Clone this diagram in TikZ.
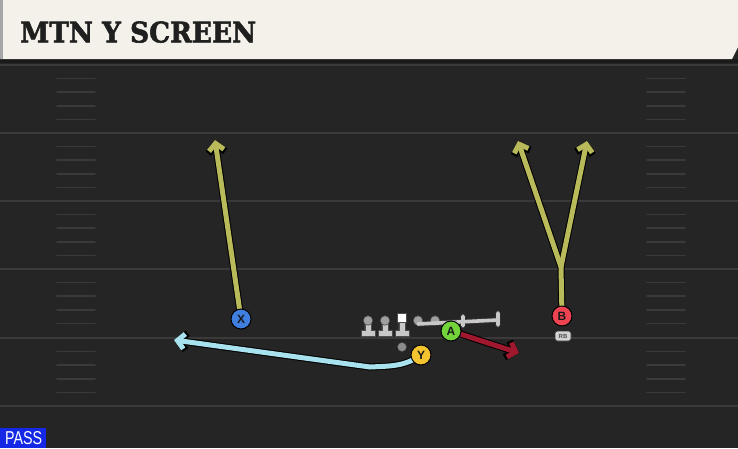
\documentclass[tikz,border=0pt]{standalone}
\usepackage{fontspec}
\setsansfont{Liberation Sans}
\newfontfamily\titlefont{DejaVu Serif}[UprightFont={* Bold}, FakeBold=2]
\usetikzlibrary{arrows.meta}
\definecolor{fieldbg}{HTML}{252525}
\definecolor{bandc}{HTML}{1A1A1A}
\definecolor{cream}{HTML}{F4F1EA}
\definecolor{yardc}{HTML}{3A3A3A}
\definecolor{hashc}{HTML}{3A3A3A}
\definecolor{olive}{HTML}{B9BA5A}
\definecolor{skyc}{HTML}{A8E2EE}
\definecolor{maroonc}{HTML}{A0182E}
\definecolor{xblue}{HTML}{3E7FE0}
\definecolor{bred}{HTML}{EE4452}
\definecolor{agreen}{HTML}{72D43A}
\definecolor{yyellow}{HTML}{F4C430}
\definecolor{linegray}{HTML}{C8C8C8}
\definecolor{topgray}{HTML}{A0A0A0}
\definecolor{passblue}{HTML}{1428E6}
\tikzset{
  yard/.style={draw=yardc, line width=2pt},
  hashmark/.style={draw=hashc, line width=1.6pt, line cap=round},
  player/.style={circle, draw=black, line width=1pt, minimum size=20pt, inner sep=0pt,
     fill=#1, font=\sffamily\bfseries\fontsize{12}{12}\selectfont, text=black!90},
  routeout/.style={draw=black, line width=7pt, line cap=round, line join=round,
     -{Straight Barb[length=7.8pt,width=17pt]}},
  routein/.style={draw=#1, line width=5pt, line cap=round, line join=round,
     -{Straight Barb[length=7pt,width=15pt]}},
  route/.style={routein=#1, preaction={routeout}},
  blockout/.style={draw=black!80, line width=5.4pt, line cap=round},
  blockin/.style={draw=linegray, line width=3.6pt, line cap=round},
  olhead/.style={circle, fill=topgray, draw=black!70, line width=0.6pt, minimum size=9.5pt, inner sep=0pt},
}
\begin{document}
\begin{tikzpicture}[x=1pt,y=-1pt]
\useasboundingbox (0,0) rectangle (738,448);
\fill[fieldbg] (0,0) rectangle (738,448);
% title bar
\fill[bandc] (0,59) rectangle (738,63);
\fill[cream] (0,0) -- (738,0) -- (738,47) -- (732,59) -- (0,59) -- cycle;
\fill[black!35] (0,0) rectangle (3,59);
\node[anchor=south west, inner sep=0pt, text=black!88] (title) at (20,43)
  {\resizebox{236pt}{21pt}{\titlefont MTN Y SCREEN}};
% yard lines
\foreach \yy in {65,133,201,269,338,406} {
  \draw[yard] (0,\yy) -- (738,\yy);
}
% hash marks
\foreach \yy in {65,133,201,269,338} {
  \foreach \k in {1,2,3,4} {
    \draw[hashmark] (57,\yy+13.6*\k) -- (95,\yy+13.6*\k);
    \draw[hashmark] (647,\yy+13.6*\k) -- (685,\yy+13.6*\k);
  }
}
% coordinates
\coordinate (xend) at (215,140);
\coordinate (bfork) at (561,267);
\coordinate (bl) at (518,141);
\coordinate (br) at (587,141);
\coordinate (aend) at (519,353);
\coordinate (ybend) at (370,367);
\coordinate (yend) at (174,340);
\coordinate (blk0) at (418,324);
\coordinate (blk1) at (463,321.7);
\coordinate (blk2) at (498,320);
% players positions
\path (241,319) coordinate (Xc);
\path (562,316) coordinate (Bc);
\path (451,331) coordinate (Ac);
\path (421,355) coordinate (Yc);
% routes
\draw[route=olive] (Xc) -- (xend);
\draw[routeout] (Bc) -- (bfork) -- (bl);
\draw[routeout] (bfork) -- (br);
\draw[routein=olive] (Bc) -- (bfork) -- (bl);
\draw[routein=olive] (bfork) -- (br);
\draw[route=skyc] (Yc) to[out=215,in=3] (ybend) -- (yend);
% offensive line
\foreach \xx/\nm in {368/ol1,385/ol2} {
  \filldraw[fill=linegray, draw=black!70, line width=0.6pt]
    (\xx-3.2,322) -- (\xx+3.2,322) -- (\xx+3.2,330.5) -- (\xx+7,330.5) -- (\xx+7,336)
    -- (\xx-7,336) -- (\xx-7,330.5) -- (\xx-3.2,330.5) -- cycle;
  \node[olhead] (\nm) at (\xx,320.5) {};
}
\filldraw[fill=linegray, draw=black!70, line width=0.6pt]
    (398.8,321) -- (405.2,321) -- (405.2,330.5) -- (409,330.5) -- (409,336)
    -- (395,336) -- (395,330.5) -- (398.8,330.5) -- cycle;
\node[rectangle, fill=white, draw=black!70, line width=0.6pt, minimum size=9pt, inner sep=0pt] (cen) at (402,317.5) {};
% blocking line
\draw[blockout] (blk0) -- (blk2) (blk1)+(0,-5.5) -- +(0,4) (blk2)+(0,-7) -- +(0,5);
\node[olhead] (ol4) at (418,320.5) {};
\node[olhead] (ol5) at (435,320.5) {};
\draw[blockin] (blk0) -- (blk2) (blk1)+(0,-5.5) -- +(0,4) (blk2)+(0,-7) -- +(0,5);
% QB
\node[circle, fill=black!45, draw=black!70, line width=0.4pt, minimum size=9pt, inner sep=0pt] (qb) at (402,347) {};
% A route
\draw[route=maroonc] (Ac) -- (aend);
% RB tag
\node[rectangle, rounded corners=2.5pt, fill=black!17, draw=black!80, line width=0.6pt,
  minimum width=16pt, minimum height=10pt, inner sep=0pt,
  font=\sffamily\bfseries\fontsize{6}{6}\selectfont, text=black!70] (rb) at (563,336) {RB};
% players
\node[player=xblue] (X) at (Xc) {X};
\node[player=bred] (B) at (Bc) {B};
\node[player=agreen] (A) at (Ac) {A};
\node[player=yyellow] (Y) at (Yc) {Y};
% PASS label
\fill[passblue] (0,428) rectangle (46,448);
\node[anchor=south west, inner sep=0pt, text=white] (pass) at (5,445)
  {\resizebox{37pt}{13pt}{\sffamily PASS}};
\end{tikzpicture}
\end{document}
